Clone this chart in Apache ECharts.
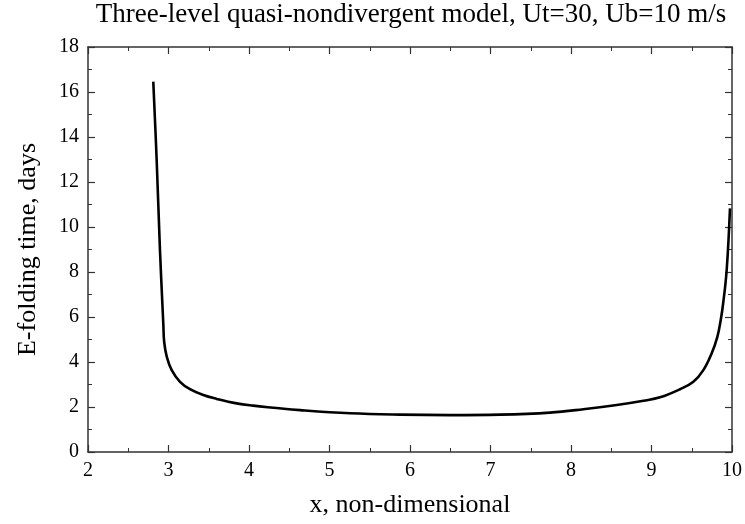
<!DOCTYPE html>
<html>
<head>
<meta charset="utf-8">
<script src="https://cdn.jsdelivr.net/npm/echarts@6/dist/echarts.min.js"></script>
<style>
  html, body { margin: 0; padding: 0; background: #fff; }
  #chart { width: 745px; height: 524px; }
</style>
</head>
<body>
<div id="chart"></div>
<script>
// 读图得到的曲线数据
const xValues = [2.811, 2.853, 2.894, 2.925, 2.936, 2.946, 2.978, 3.04, 3.143, 3.267, 3.432, 3.599, 3.847, 4.05, 4.3, 4.634, 5.255, 5.876, 6.497, 7.118, 7.739, 8.153, 8.568, 8.9, 9.106, 9.354, 9.52, 9.644, 9.748, 9.818, 9.86, 9.89, 9.934, 9.975]
const yValues = [16.46, 12.98, 8.98, 6.5, 5.65, 4.9, 4.24, 3.64, 3.12, 2.79, 2.53, 2.36, 2.16, 2.06, 1.97, 1.86, 1.72, 1.66, 1.64, 1.66, 1.75, 1.9, 2.09, 2.28, 2.43, 2.79, 3.12, 3.64, 4.39, 5.12, 5.87, 6.6, 8.09, 10.83]
const xTicks = { min: 2, max: 10, interval: 1 }
const yTicks = { min: 0, max: 18, interval: 2 }

const serif = 'Liberation Serif'
const axisColor = '#333'

function makeAxis (range, opts) {
  return Object.assign({
    type: 'value',
    min: range.min,
    max: range.max,
    interval: range.interval,
    axisLine: { show: true, onZero: false, lineStyle: { color: axisColor, width: 1.5 } },
    axisTick: { show: true, inside: true, length: 7, lineStyle: { color: axisColor, width: 1.2 } },
    minorTick: { show: true, splitNumber: 2, length: 4, lineStyle: { color: axisColor, width: 1 } },
    splitLine: { show: false },
    axisLabel: { show: true, color: '#000', fontFamily: serif, fontSize: 20, margin: 9 }
  }, opts)
}

const chart = echarts.init(document.getElementById('chart'))
chart.setOption({
  backgroundColor: '#fff',
  animation: false,
  title: {
    text: 'Three-level quasi-nondivergent model, Ut=30, Ub=10 m/s',
    left: 411,
    textAlign: 'center',
    top: 1,
    padding: 0,
    textStyle: { fontFamily: serif, fontSize: 27, fontWeight: 'normal', color: '#000' }
  },
  grid: { left: 88, right: 13, top: 47, bottom: 72 },
  xAxis: [
    makeAxis(xTicks, {
      position: 'bottom',
      name: 'x, non-dimensional',
      nameLocation: 'middle',
      nameGap: 40,
      nameTextStyle: { fontFamily: serif, fontSize: 26, color: '#000' }
    }),
    makeAxis(xTicks, { position: 'top', axisLabel: { show: false } })
  ],
  yAxis: [
    makeAxis(yTicks, {
      position: 'left',
      name: 'E-folding time, days',
      nameLocation: 'middle',
      nameGap: 47,
      nameTextStyle: { fontFamily: serif, fontSize: 26, color: '#000' }
    }),
    makeAxis(yTicks, { position: 'right', axisLabel: { show: false } })
  ],
  series: [
    {
      type: 'line',
      data: xValues.map((x, i) => [x, yValues[i]]),
      showSymbol: false,
      smooth: 0.4,
      lineStyle: { color: '#000', width: 2.6 }
    }
  ]
})
</script>
</body>
</html>
